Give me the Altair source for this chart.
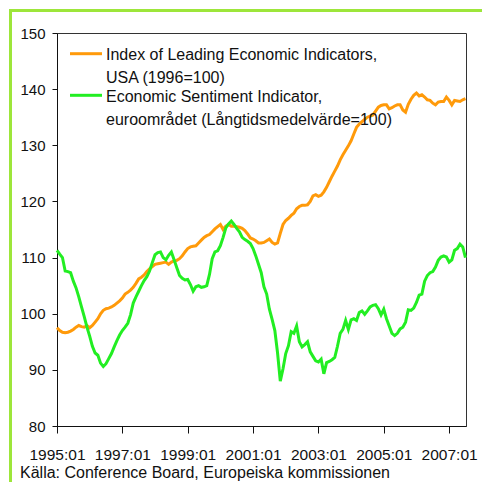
import altair as alt
import pandas as pd

# Month index: 0 = 1995:01 ... 150 = 2007:07
MONTH_INDEX = list(range(151))

LEI_USA = [
    97.5, 97.0, 96.7, 96.6, 96.7, 96.9, 97.2, 97.6, 97.9, 97.7,
    97.6, 97.9, 97.5, 97.9, 98.5, 99.1, 100.0, 100.6, 100.9, 101.0,
    101.2, 101.5, 101.9, 102.3, 102.8, 103.5, 103.8, 104.2, 104.7, 105.4,
    106.2, 106.5, 106.9, 107.5, 108.0, 108.4, 108.8, 108.9, 109.0, 109.1,
    109.2, 108.8, 109.2, 109.4, 109.5, 109.8, 110.3, 111.0, 111.6, 111.9,
    112.0, 112.1, 112.6, 113.1, 113.6, 113.9, 114.1, 114.6, 115.1, 115.5,
    115.9, 115.0, 115.6, 115.9, 115.6, 115.6, 115.5, 115.4, 115.2, 114.8,
    114.2, 113.5, 113.3, 113.0, 112.6, 112.6, 112.7, 113.0, 113.3, 112.7,
    112.4, 112.6, 114.3, 115.9, 116.6, 117.0, 117.5, 117.9, 118.7, 119.1,
    119.3, 119.3, 119.4, 120.0, 121.0, 121.2, 120.9, 121.1, 121.7, 122.5,
    123.5, 124.5, 125.4, 126.3, 127.4, 128.3, 129.1, 129.9, 130.8, 132.0,
    133.2, 133.8, 134.2, 134.6, 135.0, 135.2, 135.4, 136.1, 136.8, 137.1,
    137.2, 137.2, 136.5, 136.7, 137.0, 137.2, 137.2, 136.3, 135.9, 137.3,
    138.2, 138.9, 139.3, 138.8, 139.0, 138.6, 138.1, 138.0, 137.5, 137.2,
    137.7, 137.8, 137.8, 138.6, 138.0, 137.2, 138.0, 137.9, 137.8, 138.1,
    138.3,
]

ESI_EURO = [
    111.3, 110.6, 110.0, 107.6, 107.5, 107.3, 105.8, 104.6, 103.0, 101.2,
    99.5, 97.6, 96.0, 94.2, 93.0, 92.6, 91.2, 90.6, 91.1, 92.0,
    92.9, 94.1, 95.2, 96.2, 97.0, 97.6, 98.3, 99.8, 101.9, 103.0,
    104.0, 105.0, 105.9, 106.6, 107.6, 109.1, 110.5, 110.9, 111.0, 110.0,
    109.6, 110.4, 111.0, 109.6, 108.2, 106.8, 106.3, 106.0, 106.1, 105.2,
    104.0, 104.8, 105.0, 104.7, 104.8, 105.0, 107.0, 109.8, 111.0, 111.2,
    112.1, 113.6, 115.3, 116.0, 116.5, 115.9, 115.2, 114.6, 113.6, 113.2,
    112.9, 112.5, 111.6, 110.3, 108.8, 107.3, 104.8, 103.5, 100.8, 99.0,
    97.0, 93.0, 88.0, 90.2, 92.9, 94.3, 96.8, 96.5, 97.8, 95.0,
    94.1, 94.5, 95.0, 93.2, 92.4, 91.6, 91.4, 91.9, 89.3, 91.3,
    91.5, 91.8, 92.2, 94.2, 96.5, 97.2, 98.8, 97.2, 98.9, 99.1,
    98.8, 100.2, 100.5, 99.9, 100.5, 101.2, 101.5, 101.6, 100.9, 99.8,
    100.8, 99.1, 97.8, 96.5, 96.1, 96.5, 97.3, 97.6, 98.5, 100.7,
    100.6, 101.0, 102.0, 103.3, 103.5, 105.8, 106.8, 107.3, 107.5, 108.3,
    109.5, 110.1, 110.3, 110.1, 109.2, 109.6, 111.3, 111.6, 112.4, 111.9,
    110.0,
]

XTICK_POS = [0, 24, 48, 72, 96, 120, 144]
XTICK_LABELS = ["1995:01", "1997:01", "1999:01", "2001:01", "2003:01", "2005:01", "2007:01"]
YTICKS = [80, 90, 100, 110, 120, 130, 140, 150]

LEGEND_USA = ["Index of Leading Economic Indicators,", "USA (1996=100)"]
LEGEND_EURO = ["Economic Sentiment Indicator,", "euroområdet (Långtidsmedelvärde=100)"]
SOURCE = "Källa: Conference Board, Europeiska kommissionen"

ORANGE = "#FF9A0A"
GREEN = "#22EE22"
BORDER = "#9DE63A"
FONT = "Liberation Sans, Arial, sans-serif"

df_usa = pd.DataFrame({"m": MONTH_INDEX, "v": LEI_USA})
df_euro = pd.DataFrame({"m": MONTH_INDEX, "v": ESI_EURO})

label_expr = "[" + ",".join(f"'{s}'" for s in XTICK_LABELS) + "][round(datum.value / 24)]"

x_enc = alt.X(
    "m:Q",
    scale=alt.Scale(domain=[0, 150.2], nice=False, zero=False),
    axis=alt.Axis(values=XTICK_POS, labelExpr=label_expr, title=None, grid=False,
                  tickSize=7, labelPadding=14, labelFontSize=15.5, labelFont=FONT,
                  labelColor="#111", domainColor="#111", tickColor="#111",
                  labelFlush=False, labelOverlap=False),
)
y_enc = alt.Y(
    "v:Q",
    scale=alt.Scale(domain=[80, 150], nice=False, zero=False),
    axis=alt.Axis(values=YTICKS, title=None, grid=False, tickSize=5, labelPadding=7,
                  labelFontSize=15, labelFont=FONT, labelColor="#111",
                  domainColor="#111", tickColor="#111"),
)

line_usa = alt.Chart(df_usa).mark_line(color=ORANGE, strokeWidth=3).encode(x=x_enc, y=y_enc)
line_euro = alt.Chart(df_euro).mark_line(color=GREEN, strokeWidth=3).encode(x=x_enc, y=y_enc)

base = alt.Chart(pd.DataFrame({"k": [0]}))

leg_line_usa = base.mark_rule(color=ORANGE, strokeWidth=3).encode(
    x=alt.value(13), x2=alt.value(45), y=alt.value(20.7))
leg_line_euro = base.mark_rule(color=GREEN, strokeWidth=3).encode(
    x=alt.value(13), x2=alt.value(45), y=alt.value(62.3))
leg_text_usa = base.mark_text(text=LEGEND_USA, align="left", baseline="alphabetic",
                              fontSize=16, font=FONT, color="#111", lineHeight=23).encode(
    x=alt.value(49), y=alt.value(27))
leg_text_euro = base.mark_text(text=LEGEND_EURO, align="left", baseline="alphabetic",
                               fontSize=16, font=FONT, color="#111", lineHeight=23).encode(
    x=alt.value(49), y=alt.value(68.5))
source_text = base.mark_text(text=SOURCE, align="left", baseline="alphabetic",
                             fontSize=16, font=FONT, color="#111").encode(
    x=alt.value(-37), y=alt.value(445))
border = base.mark_rect(fill=None, stroke=BORDER, strokeWidth=3).encode(
    x=alt.value(-46.5), y=alt.value(-22.5), x2=alt.value(700), y2=alt.value(700))

chart = alt.layer(
    border, line_usa, line_euro, leg_line_usa, leg_line_euro,
    leg_text_usa, leg_text_euro, source_text,
).properties(
    width=409, height=393,
    autosize=alt.AutoSizeParams(type="none"),
    padding={"left": 49, "top": 25, "right": 16, "bottom": 56},
    background="white",
).configure_view(stroke="#333", strokeWidth=1)

chart.save("out.html", embed_options={"renderer": "svg", "actions": False})
